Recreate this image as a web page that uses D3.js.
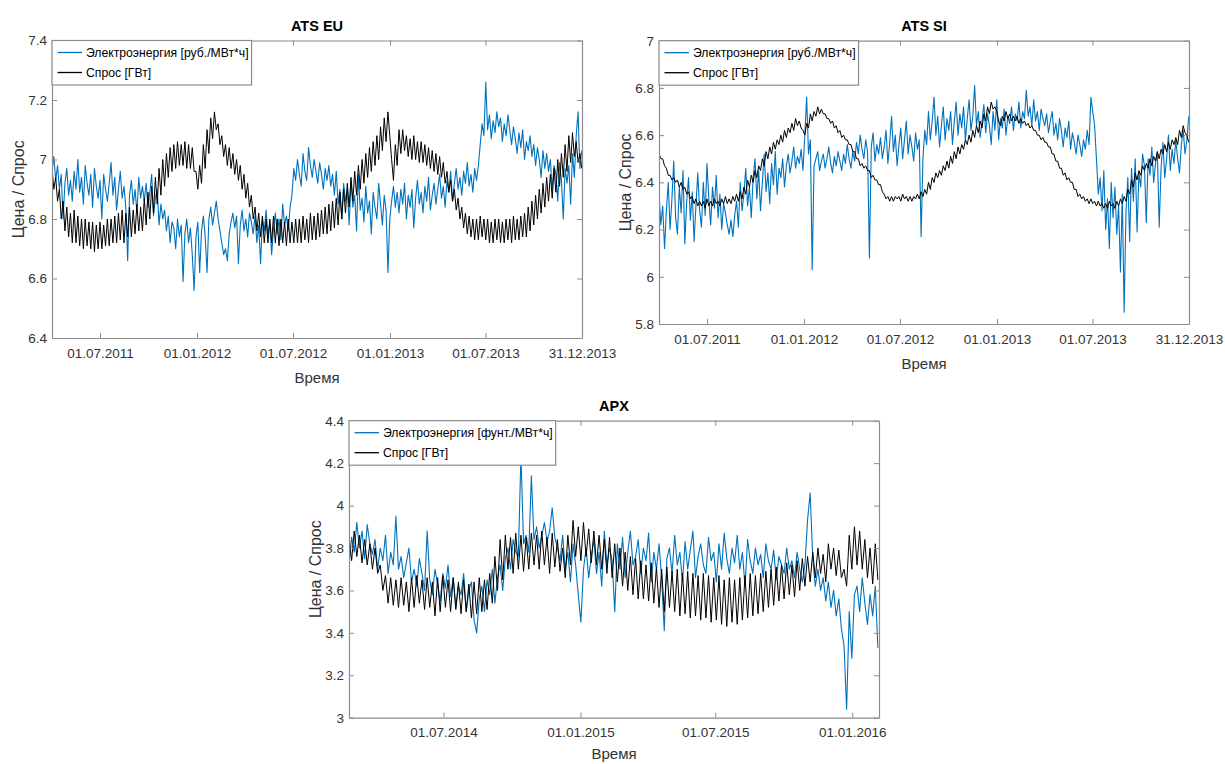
<!DOCTYPE html>
<html>
<head>
<meta charset="utf-8">
<script src="https://cdn.jsdelivr.net/npm/d3@7"></script>
<style>
  body { margin: 0; background: #fff; }
  svg { font-family: "Liberation Sans", Arial, sans-serif; }
</style>
</head>
<body>
<svg id="chart" width="1225" height="764"></svg>
<script>
// one sample every 3.5 days (weekday / weekend alternating for demand)
const STEP_DAYS = 3.5;

// ---------- ATS EU ----------
const euRange = ["01.04.2011", "31.12.2013"];
const euXTicks = ["01.07.2011", "01.01.2012", "01.07.2012", "01.01.2013", "01.07.2013", "31.12.2013"];
const euYTicks = [6.4, 6.6, 6.8, 7, 7.2, 7.4];
const euPrice = [
  6.96,7.01,6.93,6.98,6.90,6.95,6.80,6.92,6.97,6.88,
  6.93,6.86,6.96,6.90,7.00,6.89,6.94,6.85,6.98,6.92,
  6.88,6.95,6.84,6.97,6.91,6.87,6.93,6.80,6.95,6.90,
  6.86,6.92,6.99,6.88,6.94,6.83,6.90,6.96,6.87,6.91,
  6.84,6.66,6.88,6.93,6.85,6.90,6.82,6.94,6.87,6.91,
  6.86,6.92,6.84,6.89,6.95,6.81,6.87,6.90,6.78,6.85,
  6.80,6.83,6.76,6.81,6.72,6.79,6.77,6.70,6.80,6.74,
  6.78,6.59,6.75,6.80,6.72,6.77,6.68,6.56,6.74,6.79,
  6.62,6.76,6.81,6.74,6.62,6.80,6.84,6.78,6.82,6.86,
  6.80,6.76,6.72,6.68,6.70,6.66,6.75,6.79,6.82,6.77,
  6.81,6.65,6.78,6.83,6.76,6.80,6.74,6.82,6.79,6.75,
  6.81,6.72,6.78,6.65,6.80,6.76,6.83,6.74,6.79,6.68,
  6.77,6.82,6.75,6.80,6.73,6.85,6.78,6.81,6.76,6.84,
  6.88,6.97,6.93,7.00,6.95,6.91,7.02,6.96,6.93,7.04,
  6.98,6.94,7.00,6.96,6.92,6.99,6.95,6.90,6.97,6.93,
  6.98,6.91,6.95,6.88,6.96,6.85,6.90,6.80,6.92,6.86,
  6.90,6.78,6.93,6.84,6.88,6.76,6.95,6.83,6.87,6.79,
  6.91,6.82,6.86,6.75,6.89,6.84,6.80,6.92,6.85,6.78,
  6.88,6.83,6.62,6.80,6.86,6.91,6.84,6.89,6.82,6.90,
  6.85,6.92,6.80,6.88,6.84,6.90,6.77,6.87,6.93,6.85,
  6.89,6.82,6.91,6.86,6.94,6.83,6.88,6.92,6.85,6.90,
  6.95,6.87,6.91,6.84,6.93,6.89,6.96,6.86,6.92,6.97,
  6.90,6.94,6.88,6.96,6.92,6.99,6.91,6.95,6.89,6.97,
  6.93,6.98,7.05,7.12,7.08,7.26,7.10,7.15,7.07,7.13,
  7.09,7.16,7.11,7.14,7.06,7.12,7.08,7.15,7.10,7.05,
  7.11,7.07,7.02,7.09,7.04,7.10,7.00,7.06,7.03,7.08,
  7.01,7.05,6.98,7.04,7.00,6.94,7.03,6.97,7.02,6.96,
  7.00,6.90,6.98,6.95,6.86,6.99,6.93,6.80,6.97,6.92,
  6.98,6.85,7.02,6.94,7.08,7.16,6.97,7.03
];
const euDemand = [
  6.97,6.90, 6.94,6.86, 6.90,6.80, 6.86,6.76,
  6.84,6.74, 6.82,6.72, 6.83,6.72, 6.81,6.71, 6.80,6.70,
  6.80,6.71, 6.79,6.70, 6.79,6.69, 6.78,6.70, 6.79,6.70, 6.78,6.71,
  6.80,6.71, 6.80,6.72, 6.81,6.72, 6.82,6.73, 6.83,6.72, 6.82,6.74,
  6.84,6.74, 6.83,6.75, 6.85,6.76, 6.84,6.76, 6.87,6.78, 6.89,6.80,
  6.91,6.82, 6.94,6.85, 6.97,6.88, 7.00,6.91,
  7.02,6.94, 7.04,6.96, 7.05,6.97, 7.06,6.98, 7.05,6.98, 7.06,6.97, 7.05,6.97,
  7.04,6.96, 6.96,6.90, 6.98,6.92,
  7.05,6.97, 7.10,7.02, 7.14,7.07, 7.16,7.10,
  7.12,7.05, 7.08,7.01, 7.05,6.98, 7.04,6.97,
  7.02,6.95, 7.00,6.93, 6.98,6.90, 6.95,6.87,
  6.92,6.84, 6.88,6.80, 6.84,6.76, 6.82,6.74,
  6.81,6.72, 6.80,6.72, 6.80,6.72, 6.81,6.72, 6.80,6.71, 6.80,6.72, 6.79,6.71, 6.80,6.72, 6.79,6.72, 6.80,6.72,
  6.80,6.72, 6.81,6.73, 6.80,6.72, 6.82,6.73, 6.81,6.73, 6.82,6.74, 6.83,6.75, 6.84,6.75, 6.85,6.76,
  6.86,6.77, 6.87,6.78, 6.89,6.80, 6.90,6.82, 6.92,6.84, 6.94,6.86, 6.96,6.88,
  6.98,6.90, 7.00,6.92, 7.02,6.94, 7.04,6.96, 7.06,6.98, 7.08,7.00,
  7.11,7.03, 7.14,7.06, 7.16,7.08,
  7.00,6.93,
  7.05,6.98, 7.10,7.02, 7.10,7.03,
  7.08,7.01, 7.07,7.00, 7.08,7.00, 7.06,6.99, 7.06,6.99, 7.05,6.98,
  7.04,6.97, 7.03,6.96, 7.02,6.95, 7.01,6.94, 6.99,6.92,
  6.96,6.89, 6.93,6.86, 6.90,6.83, 6.87,6.80, 6.84,6.77,
  6.82,6.75, 6.81,6.74, 6.80,6.73,
  6.80,6.73, 6.81,6.74, 6.80,6.73, 6.80,6.72, 6.79,6.72, 6.80,6.73, 6.80,6.72, 6.79,6.72, 6.80,6.73, 6.80,6.72, 6.81,6.73, 6.80,6.73, 6.81,6.74, 6.82,6.74,
  6.84,6.76, 6.86,6.78, 6.88,6.80, 6.90,6.82, 6.92,6.84, 6.94,6.86,
  6.95,6.87, 6.97,6.89, 7.00,6.91, 7.02,6.94, 7.05,6.96, 7.08,6.99,
  7.09,7.01, 7.06,6.99, 7.02,6.97
];

// ---------- ATS SI ----------
const siRange = ["01.04.2011", "31.12.2013"];
const siXTicks = ["01.07.2011", "01.01.2012", "01.07.2012", "01.01.2013", "01.07.2013", "31.12.2013"];
const siYTicks = [5.8, 6, 6.2, 6.4, 6.6, 6.8, 7];
const siPrice = [
  6.35,6.22,6.30,6.12,6.28,6.40,6.20,6.33,6.49,6.25,
  6.18,6.38,6.27,6.45,6.14,6.32,6.42,6.24,6.36,6.15,
  6.30,6.44,6.28,6.21,6.40,6.26,6.48,6.33,6.22,6.38,
  6.29,6.43,6.25,6.35,6.20,6.31,6.27,6.22,6.18,6.24,
  6.17,6.26,6.32,6.21,6.40,6.28,6.35,6.46,6.30,6.38,
  6.25,6.42,6.50,6.33,6.45,6.28,6.40,6.52,6.36,6.44,
  6.31,6.48,6.39,6.53,6.35,6.46,6.42,6.50,6.38,6.47,
  6.52,6.44,6.49,6.55,6.46,6.51,6.48,6.54,6.45,6.60,
  6.76,6.52,6.58,6.03,6.47,6.50,6.53,6.45,6.49,6.52,
  6.46,6.50,6.55,6.48,6.44,6.51,6.47,6.53,6.49,6.45,
  6.52,6.48,6.56,6.50,6.46,6.53,6.49,6.57,6.52,6.60,
  6.54,6.50,6.58,6.53,6.08,6.55,6.61,6.49,6.56,6.52,
  6.59,6.50,6.55,6.62,6.48,6.57,6.68,6.53,6.60,6.47,
  6.56,6.63,6.50,6.58,6.66,6.52,6.60,6.55,6.49,6.61,
  6.54,6.58,6.17,6.50,6.62,6.56,6.70,6.58,6.66,6.76,
  6.60,6.68,6.55,6.64,6.72,6.58,6.67,6.62,6.70,6.56,
  6.66,6.74,6.60,6.69,6.63,6.72,6.58,6.67,6.75,6.62,
  6.68,6.81,6.64,6.70,6.59,6.66,6.73,6.61,6.69,6.64,
  6.56,6.70,6.62,6.75,6.58,6.67,6.63,6.71,6.60,6.68,
  6.65,6.72,6.62,6.69,6.66,6.74,6.63,6.70,6.67,6.79,
  6.68,6.72,6.64,6.75,6.66,6.70,6.62,6.71,6.67,6.64,
  6.69,6.61,6.66,6.70,6.60,6.65,6.58,6.67,6.62,6.55,
  6.63,6.59,6.66,6.54,6.61,6.57,6.52,6.60,6.56,6.51,
  6.58,6.54,6.62,6.56,6.76,6.70,6.64,6.50,6.35,6.42,
  6.28,6.45,6.20,6.33,6.12,6.40,6.25,6.38,6.18,6.30,
  6.02,6.35,5.85,6.28,6.42,6.15,6.46,6.32,6.50,6.19,
  6.44,6.38,6.52,6.47,6.23,6.50,6.43,6.55,6.40,6.48,
  6.53,6.21,6.46,6.57,6.42,6.50,6.60,6.45,6.54,6.48,
  6.58,6.50,6.44,6.56,6.62,6.52,6.58,6.68
];
const siDemand = [
  6.52,6.50, 6.50,6.47, 6.46,6.43, 6.43,6.41,
  6.42,6.40, 6.41,6.38, 6.40,6.37, 6.38,6.35, 6.36,6.33,
  6.34,6.31, 6.33,6.30, 6.32,6.30, 6.32,6.29, 6.33,6.30, 6.32,6.30, 6.33,6.31,
  6.32,6.30, 6.33,6.31, 6.34,6.31, 6.33,6.31, 6.34,6.32, 6.35,6.32, 6.36,6.33,
  6.38,6.35, 6.41,6.38, 6.43,6.40, 6.45,6.42, 6.47,6.45, 6.50,6.47, 6.53,6.50, 6.55,6.52,
  6.57,6.54, 6.58,6.56, 6.60,6.57, 6.62,6.59, 6.63,6.61, 6.65,6.62, 6.67,6.64,
  6.66,6.63, 6.62,6.60,
  6.65,6.63, 6.69,6.66, 6.70,6.68, 6.72,6.69, 6.71,6.69,
  6.69,6.67, 6.67,6.65, 6.66,6.63, 6.64,6.61, 6.62,6.59, 6.60,6.58, 6.58,6.56, 6.56,6.53,
  6.53,6.50, 6.50,6.47, 6.48,6.46, 6.47,6.45, 6.45,6.42, 6.43,6.41, 6.41,6.39,
  6.39,6.36, 6.35,6.33,
  6.34,6.32, 6.34,6.32, 6.34,6.33, 6.34,6.32, 6.35,6.33, 6.34,6.32, 6.34,6.32, 6.34,6.33, 6.35,6.33, 6.36,6.34, 6.37,6.35,
  6.40,6.37, 6.42,6.40, 6.44,6.42, 6.45,6.43, 6.47,6.45, 6.49,6.46, 6.51,6.48, 6.53,6.50,
  6.55,6.52, 6.56,6.54, 6.58,6.56, 6.60,6.57, 6.62,6.59, 6.64,6.61, 6.66,6.63, 6.69,6.66,
  6.72,6.69, 6.74,6.71, 6.72,6.70,
  6.66,6.64,
  6.68,6.66, 6.70,6.67, 6.69,6.66, 6.68,6.66, 6.68,6.65, 6.67,6.65, 6.66,6.64,
  6.65,6.63, 6.64,6.62, 6.62,6.60, 6.60,6.58, 6.59,6.57, 6.57,6.55, 6.55,6.52, 6.52,6.49, 6.49,6.46,
  6.46,6.43, 6.44,6.41, 6.42,6.40, 6.40,6.37, 6.37,6.34,
  6.35,6.33, 6.34,6.32, 6.33,6.31, 6.33,6.31, 6.32,6.30, 6.32,6.30, 6.31,6.29, 6.31,6.29, 6.32,6.30, 6.31,6.29, 6.32,6.30, 6.33,6.31,
  6.34,6.32, 6.37,6.35, 6.41,6.38, 6.44,6.41, 6.45,6.43, 6.47,6.45, 6.48,6.46, 6.50,6.47,
  6.51,6.49, 6.53,6.50, 6.54,6.52, 6.56,6.53, 6.57,6.54, 6.58,6.56, 6.59,6.56, 6.62,6.59, 6.64,6.61, 6.60,6.57
];

// ---------- APX ----------
const apxRange = ["24.02.2014", "06.02.2016"];
const apxXTicks = ["01.07.2014", "01.01.2015", "01.07.2015", "01.01.2016"];
const apxYTicks = [3, 3.2, 3.4, 3.6, 3.8, 4, 4.2, 4.4];
const apxPrice = [
  3.72,3.85,3.78,3.92,3.80,3.88,3.75,3.91,3.82,3.77,
  3.84,3.70,3.80,3.74,3.86,3.68,3.78,3.72,3.95,3.70,
  3.76,3.66,3.73,3.80,3.64,3.70,3.62,3.75,3.68,3.60,
  3.88,3.65,3.58,3.70,3.63,3.55,3.68,3.61,3.72,3.57,
  3.66,3.52,3.62,3.58,3.68,3.50,3.60,3.64,3.46,3.40,
  3.56,3.62,3.50,3.65,3.58,3.70,3.54,3.66,3.72,3.60,
  3.75,3.80,3.70,3.84,3.78,3.76,4.24,3.82,3.86,3.78,
  4.14,3.84,3.90,3.80,3.86,3.92,3.83,3.88,3.99,3.85,
  3.80,3.74,3.86,3.70,3.78,3.64,3.82,3.72,3.58,3.45,
  3.70,3.80,3.66,3.76,3.84,3.68,3.78,3.62,3.88,3.72,
  3.80,3.74,3.50,3.82,3.70,3.85,3.66,3.78,3.88,3.72,
  3.76,3.84,3.68,3.80,3.74,3.87,3.64,3.78,3.70,3.82,
  3.66,3.41,3.75,3.80,3.68,3.86,3.72,3.78,3.64,3.83,
  3.70,3.79,3.88,3.66,3.76,3.82,3.72,3.68,3.85,3.74,
  3.78,3.64,3.82,3.70,3.87,3.75,3.68,3.80,3.73,3.86,
  3.70,3.78,3.62,3.84,3.74,3.68,3.80,3.72,3.77,3.66,
  3.82,3.74,3.70,3.79,3.65,3.76,3.72,3.68,3.80,3.70,
  3.74,3.66,3.78,3.70,3.64,3.72,3.93,4.06,3.75,3.62,
  3.70,3.60,3.66,3.55,3.64,3.52,3.60,3.48,3.56,3.42,
  3.34,3.04,3.50,3.28,3.58,3.62,3.50,3.66,3.54,3.44,
  3.58,3.48,3.62,3.33
];
const apxDemand = [
  3.85,3.74, 3.88,3.76, 3.86,3.73, 3.84,3.72, 3.82,3.70, 3.80,3.68,
  3.72,3.60, 3.67,3.54, 3.66,3.53,
  3.65,3.52, 3.66,3.53, 3.64,3.50, 3.66,3.52, 3.67,3.54, 3.65,3.51, 3.66,3.52, 3.64,3.48,
  3.66,3.50, 3.67,3.52, 3.65,3.50, 3.66,3.51, 3.64,3.49, 3.65,3.50, 3.63,3.47, 3.64,3.49,
  3.66,3.50, 3.65,3.51, 3.68,3.54, 3.76,3.60, 3.84,3.65, 3.86,3.70,
  3.85,3.68, 3.87,3.70, 3.86,3.69, 3.85,3.70, 3.87,3.72,
  3.86,3.70, 3.88,3.72, 3.85,3.68, 3.87,3.71, 3.84,3.69, 3.80,3.66, 3.86,3.72, 3.93,3.76, 3.90,3.74, 3.92,3.76, 3.89,3.73, 3.88,3.72,
  3.86,3.70, 3.84,3.68, 3.85,3.66, 3.82,3.64, 3.80,3.62, 3.78,3.60, 3.76,3.58, 3.75,3.56,
  3.74,3.56, 3.72,3.55, 3.73,3.54, 3.71,3.52, 3.70,3.50, 3.71,3.52, 3.69,3.50, 3.70,3.48, 3.68,3.49, 3.69,3.47, 3.68,3.48, 3.67,3.46,
  3.68,3.47, 3.67,3.45, 3.66,3.46, 3.67,3.44, 3.65,3.43, 3.66,3.45, 3.65,3.44, 3.66,3.46, 3.67,3.47, 3.68,3.48, 3.67,3.49, 3.68,3.50, 3.69,3.52,
  3.70,3.53, 3.71,3.55, 3.72,3.56, 3.73,3.58, 3.72,3.57, 3.74,3.60, 3.75,3.62, 3.76,3.64,
  3.78,3.66, 3.80,3.68, 3.77,3.64, 3.82,3.70, 3.80,3.67, 3.79,3.66, 3.70,3.62,
  3.86,3.70, 3.90,3.72, 3.88,3.70, 3.84,3.66, 3.80,3.63, 3.82,3.65
];

const priceColor = "#0072BD";
const demandColor = "#000000";
const axisColor = "#8c8c8c";
const textColor = "#333333";

const parseDay = d3.timeParse("%d.%m.%Y");
const fmtDay = d3.timeFormat("%d.%m.%Y");
const svg = d3.select("#chart");

function drawPanel(p) {
  const g = svg.append("g").attr("transform", `translate(${p.left},${p.top})`);
  const start = parseDay(p.range[0]);
  const x = d3.scaleTime().domain([start, parseDay(p.range[1])]).range([0, p.w]);
  const y = d3.scaleLinear().domain(d3.extent(p.yTicks)).range([p.h, 0]);
  const at = i => new Date(start.getTime() + i * STEP_DAYS * 864e5);

  const clipId = "clip-" + p.id;
  g.append("clipPath").attr("id", clipId)
    .append("rect").attr("width", p.w).attr("height", p.h);

  const line = d3.line().x((d, i) => x(at(i))).y(d => y(d));
  const plot = g.append("g").attr("clip-path", `url(#${clipId})`);
  plot.append("path").datum(p.price)
    .attr("fill", "none").attr("stroke", priceColor).attr("stroke-width", 1.1)
    .attr("stroke-linejoin", "round").attr("d", line);
  plot.append("path").datum(p.demand)
    .attr("fill", "none").attr("stroke", demandColor).attr("stroke-width", 1)
    .attr("stroke-linejoin", "round").attr("d", line);

  const xt = p.xTicks.map(parseDay);
  const axes = [
    g.append("g").attr("transform", `translate(0,${p.h})`)
      .call(d3.axisBottom(x).tickValues(xt).tickFormat(fmtDay).tickSizeInner(-5).tickSizeOuter(0).tickPadding(10)),
    g.append("g")
      .call(d3.axisTop(x).tickValues(xt).tickFormat("").tickSizeInner(-5).tickSizeOuter(0)),
    g.append("g")
      .call(d3.axisLeft(y).tickValues(p.yTicks).tickFormat(d => String(d)).tickSizeInner(-5).tickSizeOuter(0).tickPadding(5)),
    g.append("g").attr("transform", `translate(${p.w},0)`)
      .call(d3.axisRight(y).tickValues(p.yTicks).tickFormat("").tickSizeInner(-5).tickSizeOuter(0))
  ];
  axes.forEach(a => {
    a.select(".domain").attr("stroke", axisColor).attr("stroke-width", 1.2);
    a.selectAll(".tick line").attr("stroke", axisColor).attr("stroke-width", 1);
    a.selectAll(".tick text").attr("fill", textColor).style("font-size", "13.5px")
      .style("font-family", "'Liberation Sans', Arial, sans-serif");
  });

  // title and axis labels
  g.append("text").attr("x", p.w / 2).attr("y", -10).attr("text-anchor", "middle")
    .style("font-size", "14.5px").style("font-weight", "bold").attr("fill", "#000").text(p.title);
  g.append("text").attr("x", p.w / 2).attr("y", p.h + p.xLabelGap).attr("dy", "0.35em").attr("text-anchor", "middle")
    .style("font-size", "15px").attr("fill", textColor).text("Время");
  g.append("text").attr("transform", `translate(-34,${p.h / 2}) rotate(-90)`).attr("dy", "0.35em")
    .attr("text-anchor", "middle").style("font-size", "16px").attr("fill", textColor).text("Цена / Спрос");

  // legend in the upper left corner
  const lg = g.append("g");
  const box = lg.append("rect").attr("height", 44.5).attr("fill", "#fff")
    .attr("stroke", axisColor).attr("stroke-width", 1.2);
  const items = [[p.priceLabel, priceColor], ["Спрос [ГВт]", demandColor]];
  const labels = items.map(([label, color], k) => {
    const cy = 12 + k * 20;
    lg.append("line").attr("x1", 5.5).attr("x2", 30).attr("y1", cy).attr("y2", cy)
      .attr("stroke", color).attr("stroke-width", 1.3);
    return lg.append("text").attr("x", 34).attr("y", cy).attr("dy", "0.35em")
      .style("font-size", "12.2px").attr("fill", "#000").text(label);
  });
  box.attr("width", 34 + d3.max(labels, t => t.node().getComputedTextLength()) + 3);
}

drawPanel({ id: "eu", title: "ATS EU", left: 52, top: 40.5, w: 530, h: 297.5, xLabelGap: 40,
  range: euRange, xTicks: euXTicks, yTicks: euYTicks, price: euPrice, demand: euDemand,
  priceLabel: "Электроэнергия [руб./МВт*ч]" });
drawPanel({ id: "si", title: "ATS SI", left: 659, top: 40.7, w: 530, h: 283.3, xLabelGap: 40,
  range: siRange, xTicks: siXTicks, yTicks: siYTicks, price: siPrice, demand: siDemand,
  priceLabel: "Электроэнергия [руб./МВт*ч]" });
drawPanel({ id: "apx", title: "APX", left: 349, top: 420.7, w: 530, h: 297, xLabelGap: 36,
  range: apxRange, xTicks: apxXTicks, yTicks: apxYTicks, price: apxPrice, demand: apxDemand,
  priceLabel: "Электроэнергия [фунт./МВт*ч]" });
</script>
</body>
</html>
